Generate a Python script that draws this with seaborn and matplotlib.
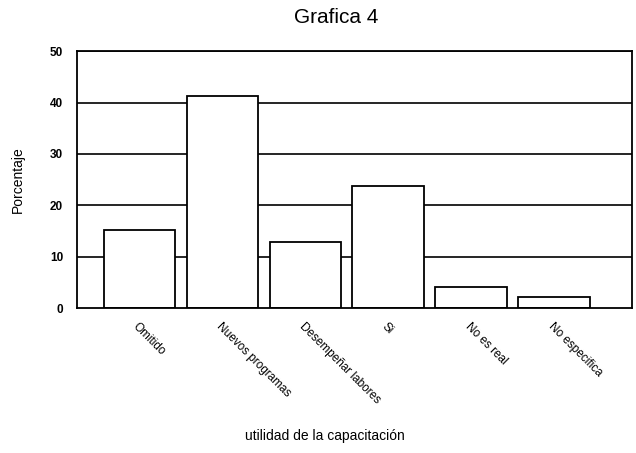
import matplotlib
matplotlib.use("Agg")
import matplotlib.pyplot as plt
import seaborn as sns
import pandas as pd

categorias = ["Omitido", "Nuevos programas", "Desempeñar labores", "Si", "No es real", "No especifica"]
porcentajes = [15.2, 41.2, 12.9, 23.7, 4.1, 2.2]

sns.set_style("white")
plt.rcParams['font.family'] = ['Liberation Sans', 'DejaVu Sans']
plt.rcParams['text.color'] = 'black'
plt.rcParams['axes.labelcolor'] = 'black'
plt.rcParams['xtick.color'] = 'black'
plt.rcParams['ytick.color'] = 'black'

df = pd.DataFrame({"cat": categorias, "val": porcentajes})

fig = plt.figure(figsize=(6.36, 4.53), dpi=100)
ax = fig.add_axes([0.121, 0.320, 0.873, 0.567])

ax.set_axisbelow(True)
for v in [10, 20, 30, 40, 50]:
    ax.axhline(v, color="black", lw=1.2, zorder=0)

sns.barplot(data=df, x="cat", y="val", color="white", edgecolor="black",
            linewidth=1.3, width=0.86, ax=ax, zorder=2)

ax.set_ylim(0, 50)
ax.set_xlim(-0.75, 5.94)
ax.set_yticks([0, 10, 20, 30, 40, 50])
ax.set_yticklabels(["0", "10", "20", "30", "40", "50"], fontsize=8.5, fontweight="bold")
ax.set_xticks(range(len(categorias)))
ax.set_xticklabels(categorias, rotation=-45, ha="left", va="top",
                   rotation_mode="anchor", fontsize=8.5)
ax.tick_params(axis="y", direction="out", length=4, width=1, color="black", pad=6)
ax.tick_params(axis="x", direction="out", length=3, width=1, color="black", pad=6)
for s in ax.spines.values():
    s.set_color("black")
    s.set_linewidth(1.3)

ax.set_xlabel("")
ax.set_ylabel("Porcentaje", fontsize=10, labelpad=18)
fig.text(0.511, 0.037, "utilidad de la capacitación", ha="center", va="center", fontsize=10)
fig.text(0.528, 0.962, "Grafica 4", ha="center", va="center", fontsize=15)

fig.savefig("out.png", dpi=100, facecolor="white")
